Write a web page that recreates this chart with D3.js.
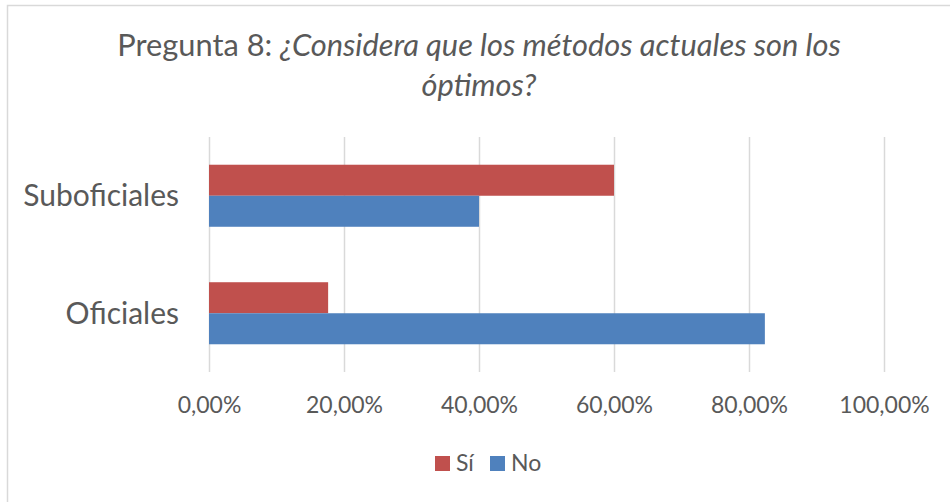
<!DOCTYPE html>
<html>
<head>
<meta charset="utf-8">
<script src="https://cdn.jsdelivr.net/npm/d3@7"></script>
<style>
  body { margin: 0; background: #fff; }
  text { font-family: Lato, "Open Sans", sans-serif; fill: #595959; }
</style>
</head>
<body>
<div id="chart"></div>
<script>
// Data
var categories = ["Suboficiales", "Oficiales"];
var seriesNames = ["Sí", "No"];
var siValues = [0.60, 0.1765];
var noValues = [0.40, 0.8235];
var tickValues = [0, 0.2, 0.4, 0.6, 0.8, 1.0];
var seriesColors = ["#C0504D", "#4F81BD"];

var width = 950, height = 502;

var svg = d3.select("#chart")
    .append("svg")
    .attr("width", width)
    .attr("height", height);

// chart frame (cropped on right and bottom)
svg.append("rect")
    .attr("x", 7.5)
    .attr("y", 5.5)
    .attr("width", 960)
    .attr("height", 520)
    .attr("fill", "#fff")
    .attr("stroke", "#d9d9d9")
    .attr("stroke-width", 1.5);

// title
var title = svg.append("text")
    .attr("text-anchor", "middle")
    .style("font-size", "30.8px");
var line1 = title.append("tspan").attr("x", 479).attr("y", 56);
line1.append("tspan").text("Pregunta 8: ");
line1.append("tspan").style("font-style", "italic").text("¿Considera que los métodos actuales son los");
title.append("tspan").attr("x", 479).attr("y", 96)
    .style("font-style", "italic").text("óptimos?");

var x = d3.scaleLinear().domain([0, 1]).range([209, 884]);

var y0 = d3.scaleBand()
    .domain(categories)
    .range([137, 372])
    .paddingInner(0.472)
    .paddingOuter(0.236);

var y1 = d3.scaleBand()
    .domain(seriesNames)
    .range([0, y0.bandwidth()]);

var color = d3.scaleOrdinal().domain(seriesNames).range(seriesColors);

var locale = d3.formatLocale({ decimal: ",", thousands: ".", grouping: [3], currency: ["", "€"] });
var fmt = locale.format(".2%");

// gridlines + tick labels
var xAxis = d3.axisBottom(x)
    .tickValues(tickValues)
    .tickSize(-(372 - 137))
    .tickFormat(fmt)
    .tickPadding(25);

var gx = svg.append("g")
    .attr("transform", "translate(0,372)")
    .call(xAxis);
gx.select(".domain").remove();
gx.selectAll(".tick line").attr("stroke", "#d9d9d9").attr("stroke-width", 1.5);
gx.selectAll(".tick text").style("font-size", "23px").attr("fill", "#595959");

// bars
var rows = categories.map(function(c, i) {
    return { category: c, values: [{ key: "Sí", value: siValues[i] }, { key: "No", value: noValues[i] }] };
});

var groups = svg.append("g")
    .selectAll("g")
    .data(rows)
    .enter().append("g")
    .attr("transform", d => "translate(0," + y0(d.category) + ")");

groups.selectAll("rect")
    .data(d => d.values)
    .enter().append("rect")
    .attr("x", x(0))
    .attr("y", d => y1(d.key))
    .attr("width", d => x(d.value) - x(0))
    .attr("height", y1.bandwidth())
    .attr("fill", d => color(d.key));

// category labels
svg.append("g")
    .selectAll("text")
    .data(categories)
    .enter().append("text")
    .attr("x", 179)
    .attr("y", d => y0(d) + y0.bandwidth() / 2)
    .attr("dy", "0.35em")
    .attr("text-anchor", "end")
    .style("font-size", "30px")
    .text(d => d);

// legend
var legendX = [435, 490];
var legend = svg.append("g")
    .selectAll("g")
    .data(seriesNames)
    .enter().append("g")
    .attr("transform", (d, i) => "translate(" + legendX[i] + ",456)");

legend.append("rect")
    .attr("width", 15)
    .attr("height", 15)
    .attr("fill", d => color(d));

legend.append("text")
    .attr("x", 21)
    .attr("y", 15)
    .style("font-size", "23px")
    .text(d => d);
</script>
</body>
</html>
